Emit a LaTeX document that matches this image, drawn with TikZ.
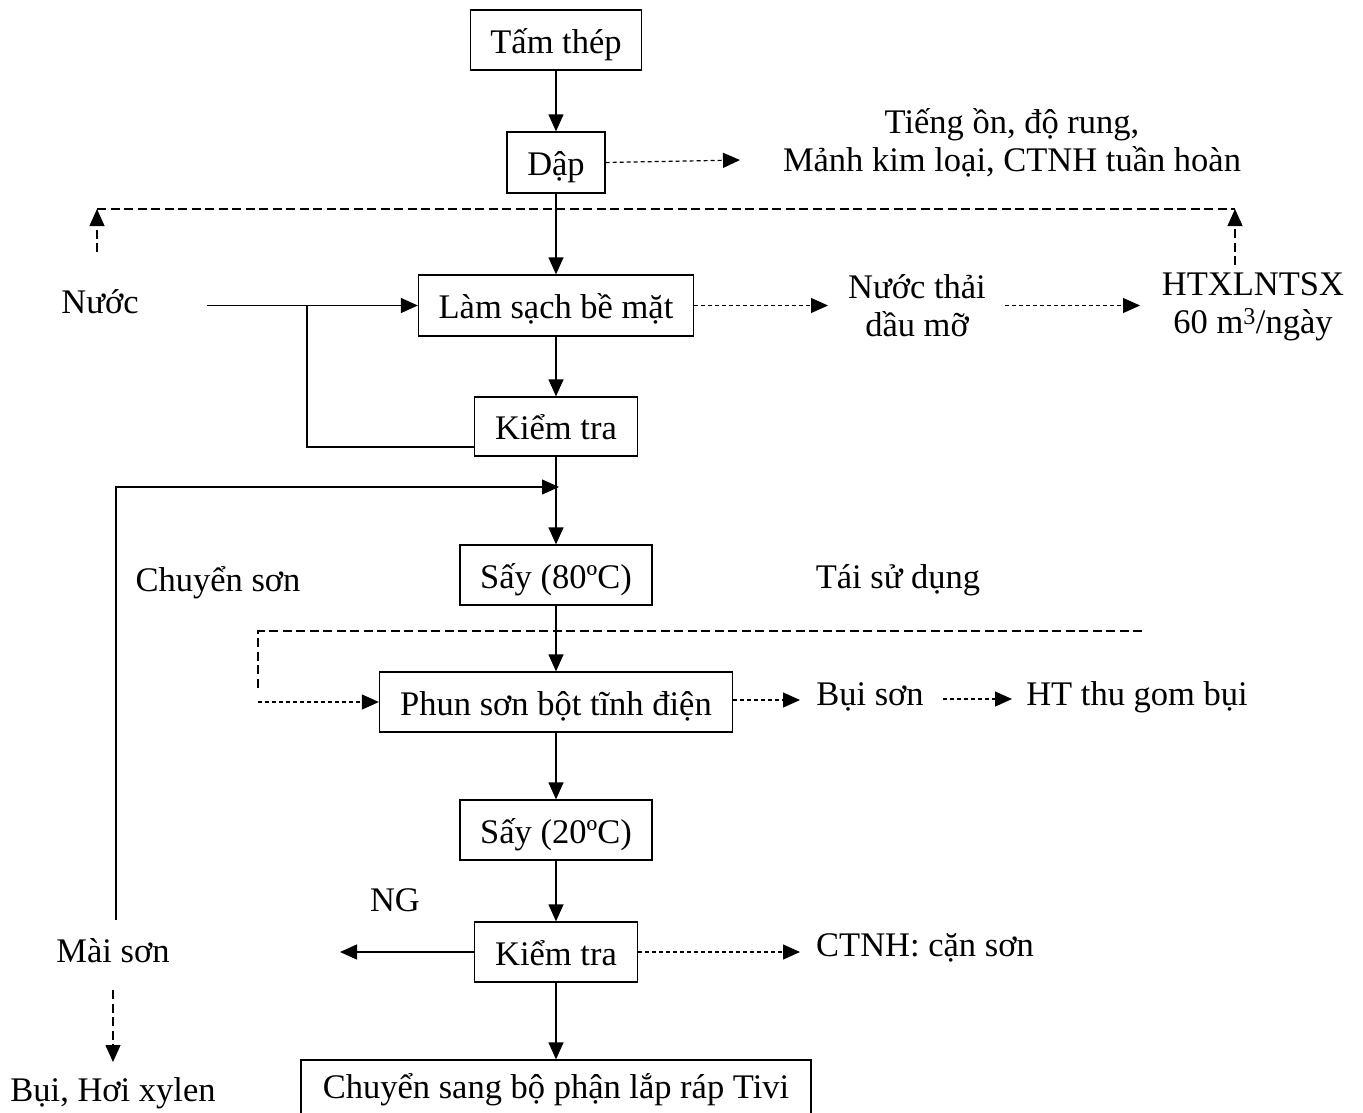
\documentclass[tikz,border=0pt]{standalone}
\usepackage{fontspec}
\setmainfont{Liberation Serif}
\usetikzlibrary{arrows.meta}
\begin{document}
\begin{tikzpicture}[x=1pt,y=-1pt,
  font=\fontsize{34.5}{38}\selectfont,
  box/.style={draw, line width=1.3pt, inner sep=0pt, text height=33pt, text depth=7pt},
  lbl/.style={inner sep=0pt, align=center},
  arr/.style={-{Triangle[length=17pt,width=15pt]}},
  ln/.style={line width=1.3pt},
  dots/.style={line width=1.2pt, dash pattern=on 4pt off 3pt},
  dashes/.style={line width=1.2pt, dash pattern=on 9pt off 4.5pt}]
\useasboundingbox (0,0) rectangle (1363,1112);

% boxes
\node[box, minimum width=171, minimum height=60] (tam) at (556,40) {Tấm thép};
\node[box, minimum width=98, minimum height=61] (dap) at (556,162.5) {Dập};
\node[box, minimum width=275, minimum height=61] (lam) at (556,305.5) {Làm sạch bề mặt};
\node[box, minimum width=163, minimum height=59] (kt1) at (556,426.5) {Kiểm tra};
\node[box, minimum width=192, minimum height=60] (s80) at (556,575) {Sấy (80ºC)};
\node[box, minimum width=353, minimum height=60] (phun) at (556,702) {Phun sơn bột tĩnh điện};
\node[box, minimum width=192, minimum height=60] (s20) at (556,830) {Sấy (20ºC)};
\node[box, minimum width=163, minimum height=60] (kt2) at (556,952) {Kiểm tra};
\node[box, minimum width=510, minimum height=62, text height=26pt, text depth=12pt] (tivi) at (556,1091) {Chuyển sang bộ phận lắp ráp Tivi};

% labels
\node[lbl] (noise) at (1012,143) {Tiếng ồn, độ rung,\\Mảnh kim loại, CTNH tuần hoàn};
\node[lbl] (nuoc) at (100,302) {Nước};
\node[lbl] (ntdm) at (917,306) {Nước thải\\dầu mỡ};
\node[lbl] (htx) at (1253,307) {HTXLNTSX\\60 m\textsuperscript{3}/ngày};
\node[lbl] (cson) at (218,583) {Chuyển sơn};
\node[lbl] (tsd) at (898,580) {Tái sử dụng};
\node[lbl] (bson) at (870,697) {Bụi sơn};
\node[lbl] (htgom) at (1137,697) {HT thu gom bụi};
\node[lbl] (ng) at (395,900) {NG};
\node[lbl] (mai) at (113,951) {Mài sơn};
\node[lbl] (ctnh) at (925,948) {CTNH: cặn sơn};
\node[lbl] (bui) at (113,1093) {Bụi, Hơi xylen};

% free-end coordinates
\coordinate (nz) at (740,160);
\coordinate (dl) at (97,209);
\coordinate (dlb) at (97,252);
\coordinate (dr) at (1235,209);
\coordinate (drb) at (1235,265);
\coordinate (nw) at (207,305.5);
\coordinate (ntA) at (828,305.5);
\coordinate (ntB) at (1005,305.5);
\coordinate (ntC) at (1140,305.5);
\coordinate (rt) at (474.5,447);
\coordinate (rc) at (307,447);
\coordinate (rj) at (307,305.5);
\coordinate (lp0) at (116,920);
\coordinate (lp1) at (116,487);
\coordinate (lp2) at (559,487);
\coordinate (ta) at (1142,631);
\coordinate (tb) at (258,631);
\coordinate (tc) at (258,690);
\coordinate (td) at (258,702);
\coordinate (bsA) at (800,700);
\coordinate (bsB) at (943,699);
\coordinate (bsC) at (1012,699);
\coordinate (ngA) at (340,952);
\coordinate (ctA) at (800,952);
\coordinate (msA) at (113,990);
\coordinate (msB) at (113,1062);

% main flow
\draw[ln,arr] (tam) -- (dap);
\draw[ln,arr] (dap) -- (lam);
\draw[ln,arr] (lam) -- (kt1);
\draw[ln,arr] (kt1.south) -- (s80.north);
\draw[ln,arr] (s80) -- (phun);
\draw[ln,arr] (phun) -- (s20);
\draw[ln,arr] (s20) -- (kt2);
\draw[ln,arr] (kt2.south) -- (tivi.north);

% side flows
\draw[dots,arr] (dap.east) -- (nz);
\draw[dashes] (dl) -- (dr);
\draw[dashes,arr] (dlb) -- (dl);
\draw[dashes,arr] (drb) -- (dr);
\draw[ln,arr] (nw) -- (lam.west);
\draw[dots,arr] (lam.east) -- (ntA);
\draw[dots,arr] (ntB) -- (ntC);
\draw[ln] (rt) -- (rc) -- (rj);
\draw[ln,arr] (lp0) -- (lp1) -- (lp2);
\draw[dashes] (ta) -- (tb) -- (tc);
\draw[dots,arr] (td) -- (phun.west);
\draw[dots,arr] (phun.east |- bsA) -- (bsA);
\draw[dots,arr] (bsB) -- (bsC);
\draw[ln,arr] (kt2.west) -- (ngA);
\draw[dots,arr] (kt2.east) -- (ctA);
\draw[dashes,arr] (msA) -- (msB);
\end{tikzpicture}
\end{document}
